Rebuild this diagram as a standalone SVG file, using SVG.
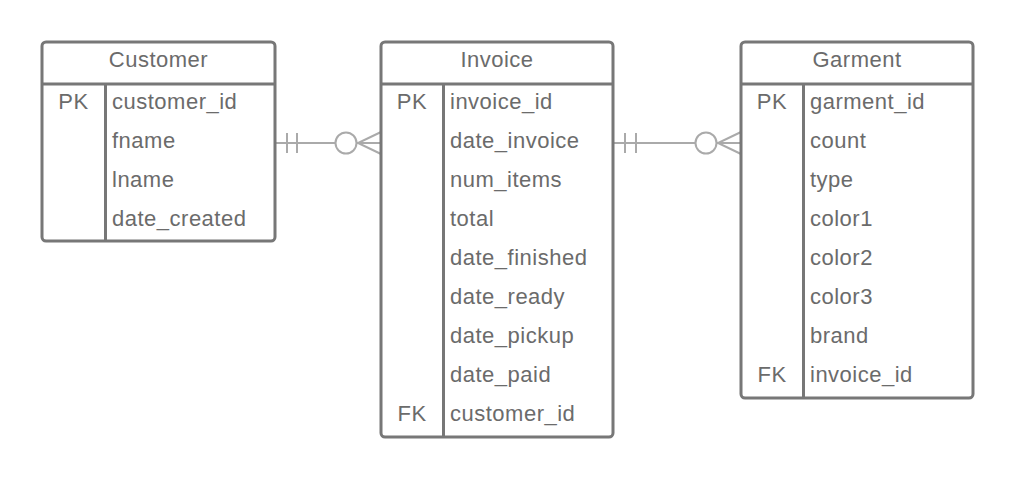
<svg xmlns="http://www.w3.org/2000/svg" width="1016" height="479" viewBox="0 0 1016 479">
<style>
.box{fill:#fff;stroke:#777;stroke-width:3}
.ln{stroke:#777;stroke-width:3;fill:none}
.t{font-family:"Liberation Sans",Arial,sans-serif;font-size:22px;letter-spacing:0.5px;fill:#6b6b6b}
.h{text-anchor:middle}
.k{text-anchor:middle}
.c{stroke:#aaa;stroke-width:2;fill:none}
.o{stroke:#aaa;stroke-width:2;fill:#fff}
</style>
<rect width="1016" height="479" fill="#fff"/>
<g id="connectors">
<g id="customer-invoice">
<line class="c" x1="275" y1="143" x2="381" y2="143"/>
<line class="c" x1="287" y1="133" x2="287" y2="153"/>
<line class="c" x1="297" y1="133" x2="297" y2="153"/>
<circle class="o" cx="346" cy="143" r="10.5"/>
<polyline class="c" points="381,132 358,143 381,154"/>
</g>
<g id="invoice-garment">
<line class="c" x1="613" y1="143" x2="741" y2="143"/>
<line class="c" x1="625" y1="133" x2="625" y2="153"/>
<line class="c" x1="636" y1="133" x2="636" y2="153"/>
<circle class="o" cx="706" cy="143" r="10.5"/>
<polyline class="c" points="741,132 718,143 741,154"/>
</g>
</g>
<g id="customer">
<rect class="box" x="42" y="42" width="233" height="199" rx="4"/>
<line class="ln" x1="42" y1="84" x2="275" y2="84"/>
<line class="ln" x1="105.5" y1="84" x2="105.5" y2="241"/>
<text class="t h" x="158.5" y="67">Customer</text>
<text class="t k" x="73.5" y="109">PK</text>
<text class="t" x="112" y="109">customer_id</text>
<text class="t" x="112" y="148">fname</text>
<text class="t" x="112" y="187">lname</text>
<text class="t" x="112" y="226">date_created</text>
</g>
<g id="invoice">
<rect class="box" x="381" y="42" width="232" height="395" rx="4"/>
<line class="ln" x1="381" y1="84" x2="613" y2="84"/>
<line class="ln" x1="443.5" y1="84" x2="443.5" y2="437"/>
<text class="t h" x="497" y="67">Invoice</text>
<text class="t k" x="412" y="109">PK</text>
<text class="t" x="450" y="109">invoice_id</text>
<text class="t" x="450" y="148">date_invoice</text>
<text class="t" x="450" y="187">num_items</text>
<text class="t" x="450" y="226">total</text>
<text class="t" x="450" y="265">date_finished</text>
<text class="t" x="450" y="304">date_ready</text>
<text class="t" x="450" y="343">date_pickup</text>
<text class="t" x="450" y="382">date_paid</text>
<text class="t k" x="412" y="421">FK</text>
<text class="t" x="450" y="421">customer_id</text>
</g>
<g id="garment">
<rect class="box" x="741" y="42" width="232" height="356" rx="4"/>
<line class="ln" x1="741" y1="84" x2="973" y2="84"/>
<line class="ln" x1="803.5" y1="84" x2="803.5" y2="398"/>
<text class="t h" x="857" y="67">Garment</text>
<text class="t k" x="772" y="109">PK</text>
<text class="t" x="810" y="109">garment_id</text>
<text class="t" x="810" y="148">count</text>
<text class="t" x="810" y="187">type</text>
<text class="t" x="810" y="226">color1</text>
<text class="t" x="810" y="265">color2</text>
<text class="t" x="810" y="304">color3</text>
<text class="t" x="810" y="343">brand</text>
<text class="t k" x="772" y="382">FK</text>
<text class="t" x="810" y="382">invoice_id</text>
</g>
</svg>
